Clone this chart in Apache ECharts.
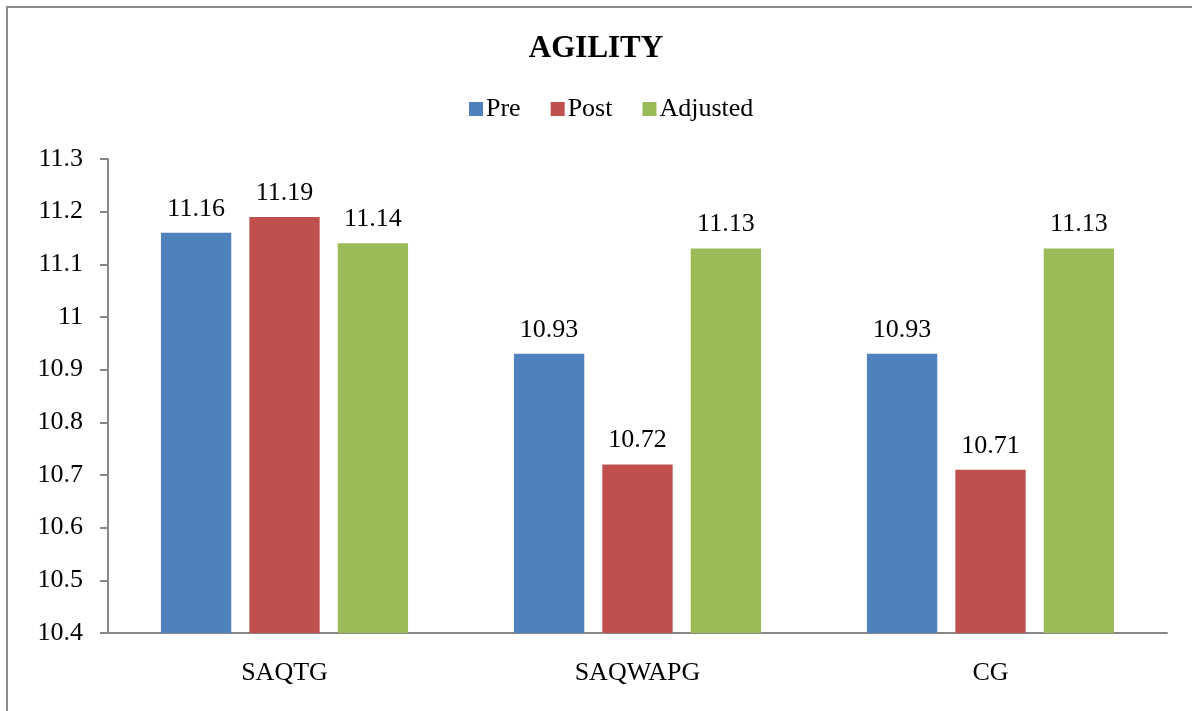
<!DOCTYPE html>
<html>
<head>
<meta charset="utf-8">
<script src="https://cdn.jsdelivr.net/npm/echarts@6/dist/echarts.min.js"></script>
<style>
html,body{margin:0;padding:0;background:#fff;}
#chart{width:1192px;height:711px;}
</style>
</head>
<body>
<div id="chart"></div>
<script>
var categories = ['SAQTG', 'SAQWAPG', 'CG'];
var preValues = [11.16, 10.93, 10.93];
var postValues = [11.19, 10.72, 10.71];
var adjustedValues = [11.14, 11.13, 11.13];
var seriesNames = ['Pre', 'Post', 'Adjusted'];
var yTicks = [10.4, 10.5, 10.6, 10.7, 10.8, 10.9, 11, 11.1, 11.2, 11.3];

var font = '"Liberation Serif", "Times New Roman", serif';
var chart = echarts.init(document.getElementById('chart'));
function mk(name, data, color) {
  return {
    name: name, type: 'bar', data: data,
    barGap: '25.7%', barCategoryGap: '30%',
    itemStyle: { color: color },
    label: { show: true, position: 'top', distance: 11, color: '#000', fontFamily: font, fontSize: 26,
      formatter: function (p) { return p.value.toFixed(2); } }
  };
}
chart.setOption({
  animation: false,
  backgroundColor: '#fff',
  title: { text: 'AGILITY', left: 'center', top: 28,
    textStyle: { fontFamily: font, fontSize: 31, fontWeight: 'bold', color: '#000' } },
  legend: { top: 91, left: 464, itemWidth: 14, itemHeight: 14, itemGap: 30,
    icon: 'rect', data: seriesNames,
    textStyle: { fontFamily: font, fontSize: 26, color: '#000', padding: [0, 0, 0, -2] } },
  grid: { left: 108, right: 25, top: 159, bottom: 78, containLabel: false },
  xAxis: { type: 'category', data: categories,
    axisLine: { lineStyle: { color: '#888', width: 2 } },
    axisTick: { show: false },
    axisLabel: { color: '#000', fontFamily: font, fontSize: 26, margin: 27 } },
  yAxis: { type: 'value', min: yTicks[0], max: yTicks[yTicks.length - 1], interval: 0.1,
    axisLine: { show: true, lineStyle: { color: '#888', width: 2 } },
    axisTick: { show: true, length: 8, lineStyle: { color: '#888', width: 2 } },
    splitLine: { show: false },
    axisLabel: { color: '#000', fontFamily: font, fontSize: 26, margin: 25,
      formatter: function (v) { return String(parseFloat(v.toFixed(1))); } } },
  graphic: [
    { type: 'polyline', shape: { points: [[7, 711], [7, 7], [1192, 7]] },
      style: { stroke: '#8c8c8c', lineWidth: 2, fill: null } }
  ],
  series: [
    mk(seriesNames[0], preValues, '#4f81bd'),
    mk(seriesNames[1], postValues, '#c0504d'),
    mk(seriesNames[2], adjustedValues, '#9bbb59')
  ]
});
</script>
</body>
</html>
